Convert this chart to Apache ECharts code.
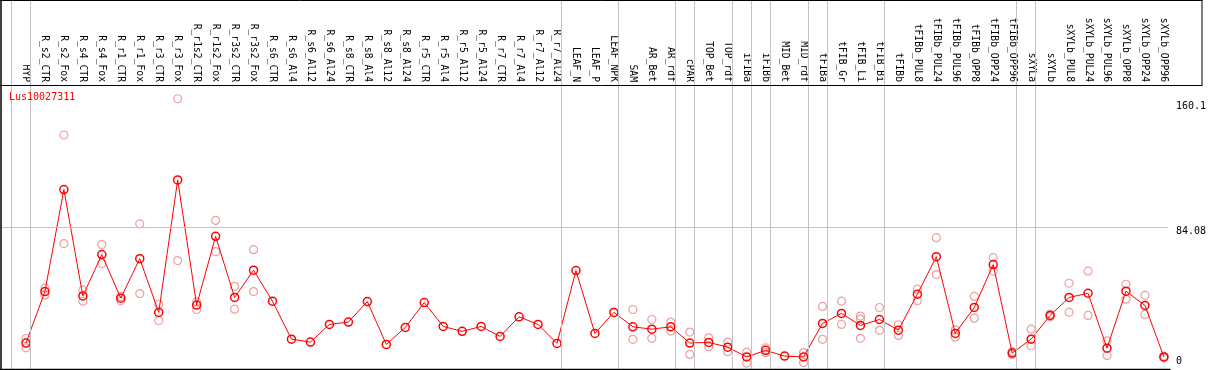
<!DOCTYPE html>
<html><head><meta charset="utf-8">
<script src="https://cdn.jsdelivr.net/npm/echarts@6/dist/echarts.min.js"></script>
<style>html,body{margin:0;padding:0;background:#fff;overflow:hidden}#c{width:1209px;height:370px}</style>
</head><body><div id="c"></div>
<script>
const chartTitle = 'Lus10027311';
const categories = ['HYP','R_s2_CTR','R_s2_Fox','R_s4_CTR','R_s4_Fox','R_r1_CTR','R_r1_Fox','R_r3_CTR','R_r3_Fox',
  'R_r1s2_CTR','R_r1s2_Fox','R_r3s2_CTR','R_r3s2_Fox','R_s6_CTR','R_s6_Al4','R_s6_Al12','R_s6_Al24',
  'R_s8_CTR','R_s8_Al4','R_s8_Al12','R_s8_Al24','R_r5_CTR','R_r5_Al4','R_r5_Al12','R_r5_Al24',
  'R_r7_CTR','R_r7_Al4','R_r7_Al12','R_r7_Al24','LEAF_N','LEAF_P','LEAF_NPK','SAM','AR_Bet','AR_rdf',
  'cPAR','TOP_Bet','TOP_rdf','iFIBa','iFIBb','MID_Bet','MID_rdf','tFIBa','tFIB_Gr','tFIB_Li','tFIB_Bi',
  'tFIBb','tFIBb_PUL8','tFIBb_PUL24','tFIBb_PUL96','tFIBb_OPP8','tFIBb_OPP24','tFIBb_OPP96',
  'sXYLa','sXYLb','sXYLb_PUL8','sXYLb_PUL24','sXYLb_PUL96','sXYLb_OPP8','sXYLb_OPP24','sXYLb_OPP96'];
const meanValues = [15.9,46.3,106.5,43.7,68.1,42.4,65.7,34.0,112.2,38.3,78.9,42.8,58.9,40.6,18.2,16.5,26.9,
  28.3,40.4,15.1,25.1,39.8,25.7,22.8,25.7,19.8,31.4,26.9,15.7,
  58.7,21.6,34.0,25.5,24.1,25.5,15.9,16.3,13.5,7.7,11.6,8.2,7.7,27.5,33.4,26.3,29.8,
  23.5,44.7,66.9,21.6,36.9,62.2,10.0,18.2,32.2,42.8,45.3,12.9,46.5,38.1,7.7];
const replicateA = [18.6,48.3,138.7,47.1,74.0,43.4,86.3,38.8,160.1,40.2,88.3,49.4,71.0,
  null,null,null,null,null,null,null,null,null,null,null,null,null,null,null,null,
  null,null,null,35.7,29.8,28.3,22.4,19.0,16.5,10.6,13.1,null,10.3,37.5,40.6,31.8,36.9,
  26.7,47.7,78.1,23.7,43.4,66.3,10.8,24.1,33.0,51.2,58.3,17.2,50.6,44.1,8.2];
const replicateB = [13.1,44.3,74.6,40.6,62.8,40.8,45.1,29.2,64.6,35.7,69.9,35.9,46.3,
  null,null,null,null,null,null,null,null,null,null,null,null,null,null,null,null,
  null,null,null,18.1,18.7,23.0,9.2,13.7,10.8,4.1,10.2,null,4.4,18.1,26.9,18.7,23.4,
  20.4,40.8,56.3,19.4,30.6,58.4,9.2,14.3,31.5,34.1,32.2,8.6,41.8,32.8,7.2];
const replicateC = {44: 30.0};
const groupEnds = [-1,0,28,31,34,35,37,38,39,41,42,45,52,53,60];
const yTickValues = [0, 84.08, 160.1];
const yTickLabels = ['0', '84.08', '160.1'];

const FONT = 'DejaVu Sans Mono';
const PX0 = 26, STEP = 19, GL = 1, GR = 1170.5;
const xMin = (GL - PX0) / STEP, xMax = (GR - PX0) / STEP;
const PLOT_TOP = 99, PLOT_BOTTOM = 371;
const yMax = 160.1 * PLOT_BOTTOM / (PLOT_BOTTOM - PLOT_TOP);

const mainData = meanValues.map((v, i) => [i, v]);
const repData = [];
replicateA.forEach((v, i) => { if (v != null) repData.push([i, v]); });
replicateB.forEach((v, i) => { if (v != null) repData.push([i, v]); });
Object.keys(replicateC).forEach(k => repData.push([+k, replicateC[k]]));

const chart = echarts.init(document.getElementById('c'), null, {renderer: 'canvas'});
chart.setOption({
  animation: false,
  backgroundColor: '#fff',
  title: {text: chartTitle, left: 9, top: 92, padding: 0,
    textStyle: {color: '#ff0000', fontFamily: FONT, fontSize: 10, fontWeight: 'normal'}},
  grid: {left: GL, top: 0, width: GR - GL, height: PLOT_BOTTOM, containLabel: false},
  xAxis: {
    type: 'value', position: 'top', min: xMin, max: xMax, offset: -82,
    axisLine: {show: false, onZero: false}, axisTick: {show: false}, splitLine: {show: false},
    axisLabel: {
      customValues: categories.map((c, i) => i), rotate: 90, margin: 0,
      fontFamily: FONT, fontSize: 9.7, color: '#000',
      formatter: v => categories[Math.round(v)] || ''
    }
  },
  yAxis: {
    type: 'value', position: 'right', min: 0, max: yMax,
    axisLine: {show: false, onZero: false}, axisTick: {show: false}, splitLine: {show: false},
    axisLabel: {
      customValues: yTickValues, margin: 7.5, fontFamily: FONT, fontSize: 10, color: '#000',
      verticalAlign: 'middle',
      formatter: v => {
        const k = yTickValues.indexOf(v);
        const t = k >= 0 ? yTickLabels[k] : '';
        if (v === 0) return '{b|' + t + '}';
        if (v === 84.08) return '{m|' + t + '}';
        return '{t|' + t + '}';
      },
      rich: {
        b: {fontFamily: FONT, fontSize: 10, color: '#000', padding: [0, 0, 18, 0]},
        m: {fontFamily: FONT, fontSize: 10, color: '#000', padding: [8, 0, 0, 0]},
        t: {fontFamily: FONT, fontSize: 10, color: '#000', padding: [15, 0, 0, 0]}
      }
    }
  },
  series: [
    {
      type: 'scatter', data: repData, symbol: 'circle', symbolSize: 8, z: 2, silent: true,
      itemStyle: {color: 'rgba(0,0,0,0)', borderColor: '#e88888', borderWidth: 1.2},
      markLine: {
        silent: true, symbol: 'none', label: {show: false},
        lineStyle: {color: '#c4c4c4', width: 1, type: 'solid'},
        data: groupEnds.map(g => ({xAxis: g + 0.24})).concat([{yAxis: 84.08}])
      }
    },
    {
      type: 'line', data: mainData, symbol: 'circle', symbolSize: 8, z: 3, silent: true,
      lineStyle: {color: '#ff0000', width: 1},
      itemStyle: {color: 'rgba(0,0,0,0)', borderColor: '#ff0000', borderWidth: 1.5}
    }
  ],
  graphic: [
    {type: 'line', shape: {x1: 0, y1: 0.5, x2: 1202.5, y2: 0.5}, style: {stroke: '#000', lineWidth: 1}, z: 10},
    {type: 'line', shape: {x1: 0, y1: 85.5, x2: 1202.5, y2: 85.5}, style: {stroke: '#000', lineWidth: 1}, z: 10},
    {type: 'line', shape: {x1: 1202, y1: 0, x2: 1202, y2: 85.5}, style: {stroke: '#000', lineWidth: 1}, z: 10},
    {type: 'line', shape: {x1: 1, y1: 0, x2: 1, y2: 370}, style: {stroke: '#000', lineWidth: 1.5}, z: 10},
    {type: 'line', shape: {x1: 0, y1: 369.5, x2: 1170.5, y2: 369.5}, style: {stroke: '#000', lineWidth: 1.5}, z: 10}
  ]
});
</script></body></html>
